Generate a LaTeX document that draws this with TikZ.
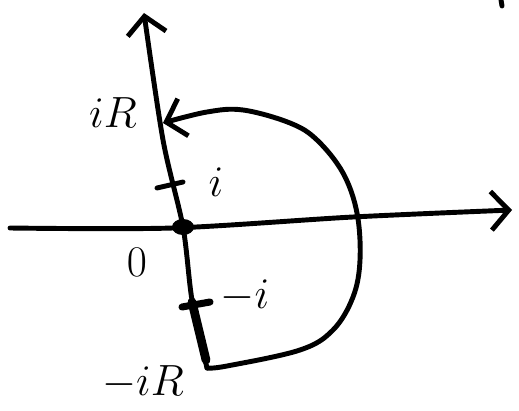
\documentclass[tikz,border=0pt]{standalone}
\usetikzlibrary{arrows.meta}
\begin{document}
\begin{tikzpicture}[x=0.02cm, y=-0.02cm, line cap=round, line join=round,
  pen/.style={line width=2.8pt},
  lbl/.style={font=\fontsize{30}{32}\selectfont},
  >={Straight Barb[length=10pt, width=22pt]}]
\useasboundingbox (0,0) rectangle (519,411);

% --- puntos ---
\coordinate (mR) at (207,368);
\coordinate (pR) at (163,123);
\coordinate (O) at (183,227);
\coordinate (top) at (144,13);
\coordinate (left) at (10,228);
\coordinate (right) at (512,210);

% --- ejes ---
\draw[pen, ->] plot[smooth] coordinates {(mR) (192,300) (O) (163,140) (top)};
\draw[pen, ->] plot[smooth] coordinates {(left) (173,228) (353,217) (right)};
\fill (O) ellipse (11 and 8);

% --- contorno ---
\draw[pen, ->] plot[smooth, tension=0.6] coordinates {(mR) (227,366) (300,350)
  (333,330) (353,297) (360,260) (357,213) (343,173) (317,140) (290,123)
  (243,110) (207,112) (pR)};
% tramo grueso entre -i y -iR
\draw[line width=5pt] (192,302) -- (206,360);

% --- marcas ---
\draw[pen] (157,188) -- (183,182);
\draw[line width=4pt] (182,307) -- (210,302);

% --- etiquetas ---
\node[lbl] (iR) at (113,113) {$iR$};
\node[lbl] (i) at (216,182) {$i$};
\node[lbl] (zero) at (137,262) {$0$};
\node[lbl] (mi) at (245,296) {$-i$};
\node[lbl] (miR) at (143,382) {$-iR$};

% trazo cortado arriba a la derecha
\draw[pen] (501,0) -- (502,6);

\end{tikzpicture}
\end{document}
